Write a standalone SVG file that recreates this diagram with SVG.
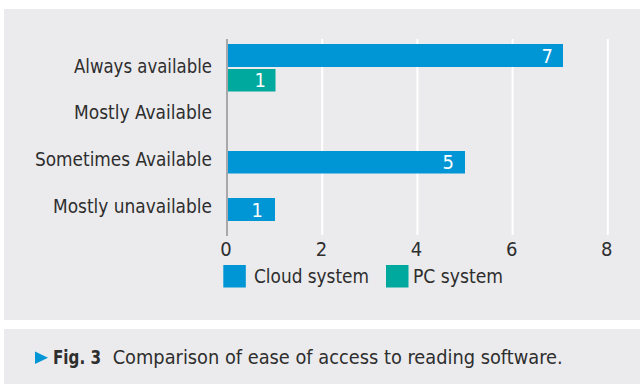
<svg xmlns="http://www.w3.org/2000/svg" width="640" height="384" viewBox="0 0 640 384">
  <style>
    .lbl { font-family: "DejaVu Sans Condensed", "Open Sans", "Liberation Sans", sans-serif; font-size: 20px; fill: #2e2e2e; }
    .val { font-family: "DejaVu Sans Condensed", "Open Sans", "Liberation Sans", sans-serif; font-size: 20px; fill: #ffffff; text-anchor: end; }
    .tick { text-anchor: middle; }
    .cat { text-anchor: end; }
    .grid { stroke: #ffffff; stroke-width: 2; }
    .cloud { fill: #0096d6; }
    .pc { fill: #00a99d; }
    .bold { font-weight: bold; }
  </style>

  <!-- page and panels -->
  <rect x="0" y="0" width="640" height="384" fill="#ffffff"/>
  <rect x="4" y="9" width="636" height="311" fill="#ebebed"/>
  <rect x="4" y="329" width="636" height="55" fill="#ebebed"/>

  <!-- value grid -->
  <g id="grid">
    <line class="grid" x1="322.2" y1="39" x2="322.2" y2="235"/>
    <line class="grid" x1="417.4" y1="39" x2="417.4" y2="235"/>
    <line class="grid" x1="512.6" y1="39" x2="512.6" y2="235"/>
    <line class="grid" x1="607.8" y1="39" x2="607.8" y2="235"/>
  </g>

  <!-- bars -->
  <g id="bar-always-cloud">
    <rect class="cloud" x="228" y="44" width="335" height="23"/>
    <text class="val" x="553" y="62.5">7</text>
  </g>
  <g id="bar-always-pc">
    <rect class="pc" x="228" y="69" width="47.5" height="22.5"/>
    <text class="val" x="266" y="87">1</text>
  </g>
  <g id="bar-sometimes-cloud">
    <rect class="cloud" x="228" y="151" width="237" height="22.5"/>
    <text class="val" x="454" y="169">5</text>
  </g>
  <g id="bar-unavailable-cloud">
    <rect class="cloud" x="228" y="198" width="47" height="23"/>
    <text class="val" x="263" y="216.5">1</text>
  </g>

  <!-- category axis -->
  <g id="axis">
    <line x1="227" y1="39" x2="227" y2="236" stroke="#a8a8aa" stroke-width="2"/>
  </g>

  <g id="categories">
    <text class="lbl cat" x="212" y="73" textLength="138" lengthAdjust="spacingAndGlyphs">Always available</text>
    <text class="lbl cat" x="212" y="119" textLength="138" lengthAdjust="spacingAndGlyphs">Mostly Available</text>
    <text class="lbl cat" x="212" y="166" textLength="177" lengthAdjust="spacingAndGlyphs">Sometimes Available</text>
    <text class="lbl cat" x="212" y="213" textLength="159" lengthAdjust="spacingAndGlyphs">Mostly unavailable</text>
  </g>

  <g id="ticks">
    <text class="lbl tick" x="226" y="256">0</text>
    <text class="lbl tick" x="321.5" y="256">2</text>
    <text class="lbl tick" x="416.5" y="256">4</text>
    <text class="lbl tick" x="511.7" y="256">6</text>
    <text class="lbl tick" x="606.7" y="256">8</text>
  </g>

  <!-- legend -->
  <g id="legend-cloud">
    <rect class="cloud" x="223.3" y="265" width="22.5" height="22.5"/>
    <text class="lbl" x="254" y="283" textLength="115" lengthAdjust="spacingAndGlyphs">Cloud system</text>
  </g>
  <g id="legend-pc">
    <rect class="pc" x="386" y="265" width="22.5" height="22.5"/>
    <text class="lbl" x="413" y="283" textLength="90" lengthAdjust="spacingAndGlyphs">PC system</text>
  </g>

  <!-- caption -->
  <g id="caption">
    <polygon points="35,351.5 48,357.8 35,364" fill="#0096d6"/>
    <text class="lbl bold" x="53" y="364" textLength="48" lengthAdjust="spacingAndGlyphs">Fig. 3</text>
    <text class="lbl" x="112.7" y="364" textLength="450" lengthAdjust="spacingAndGlyphs">Comparison of ease of access to reading software.</text>
  </g>
</svg>
